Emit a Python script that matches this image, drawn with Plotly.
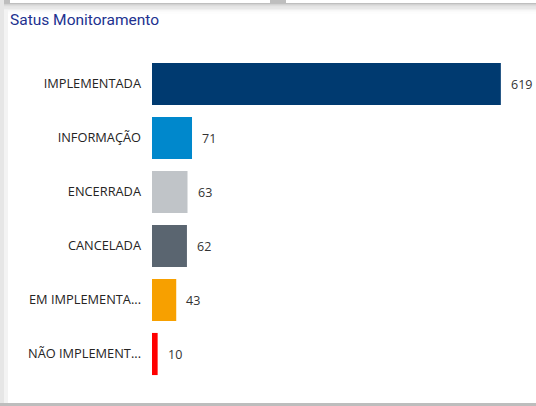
import plotly.graph_objects as go

categories = ["IMPLEMENTADA", "INFORMAÇÃO", "ENCERRADA", "CANCELADA", "EM IMPLEMENTA...", "NÃO IMPLEMENT..."]
values = [619, 71, 63, 62, 43, 10]
colors = ["#003A70", "#0088CC", "#C0C4C8", "#5A6570", "#F7A000", "#FF0000"]

W, H = 536, 406
L, R, T, B = 152, 16, 57, 25
pw, ph = W - L - R, H - T - B

def px(x):
    return (x - L) / pw

def py(y):
    return (H - B - y) / ph

fig = go.Figure()
fig.add_trace(go.Bar(
    x=values, y=categories, orientation="h",
    marker=dict(color=colors, line=dict(width=0)),
    hoverinfo="skip",
))

for c, v in zip(categories, values):
    fig.add_annotation(x=v, y=c, text=str(v), showarrow=False,
                       xanchor="left", xshift=8,
                       font=dict(family="Segoe UI, Open Sans, sans-serif", size=12.5, color="#333333"))

shapes = []
def rect(x0, y0, x1, y1, color):
    shapes.append(dict(type="rect", xref="paper", yref="paper",
                       x0=px(x0), x1=px(x1), y0=py(y0), y1=py(y1),
                       fillcolor=color, line=dict(width=0), layer="below"))

# background frame / shadows
rect(0, 0, W, 3, "#BEBEBE")
rect(10, 0, 270, 3, "#FFFFFF")
rect(286, 0, W, 3, "#FFFFFF")
grad = ["#BFBFBF", "#C9C9C9", "#D4D4D4", "#DFDFDF", "#E8E8E8", "#F0F0F0", "#F6F6F6", "#FAFAFA", "#FDFDFD"]
for i, g in enumerate(grad):
    rect(0, 3 + i * 1.2, W, 3 + (i + 1) * 1.2, g)
rect(0, 0, 4, H, "#E6E6E6")
rect(4, 10, 8, H, "#F3F3F3")
rect(0, 403, W, H, "#BDBDBD")

fig.update_layout(
    width=W, height=H,
    margin=dict(l=L, r=R, t=T, b=B, pad=0),
    paper_bgcolor="#FFFFFF", plot_bgcolor="#FFFFFF",
    bargap=0.22,
    showlegend=False,
    shapes=shapes,
    title=dict(text="Satus Monitoramento", x=10 / W, xanchor="left", xref="container",
               y=1 - 20 / H, yanchor="middle",
               font=dict(family="Roboto, sans-serif", size=15.5, color="#22318F")),
    xaxis=dict(range=[0, 653], visible=False, fixedrange=True),
    yaxis=dict(autorange="reversed", showgrid=False, zeroline=False, showline=False,
               ticks="", ticklabelstandoff=10,
               tickfont=dict(family="Segoe UI, Open Sans, sans-serif", size=12.8, color="#252423")),
)
fig.write_html("out.html", config=dict(displayModeBar=False),
               post_script="document.body.style.margin='0';document.body.style.overflow='hidden';")
